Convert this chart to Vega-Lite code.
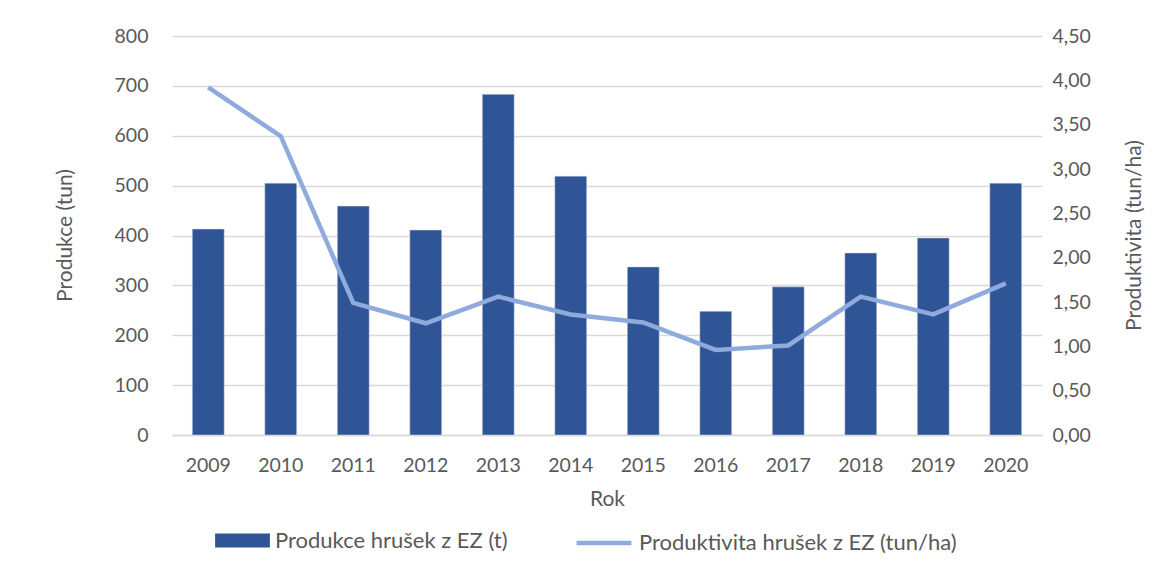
{
  "$schema": "https://vega.github.io/schema/vega-lite/v6.json",
  "autosize": "none",
  "width": 870,
  "height": 399,
  "padding": {"left": 172, "top": 36, "right": 123, "bottom": 136},
  "background": "white",
  "config": {
    "locale": {"number": {"decimal": ",", "thousands": " ", "grouping": [3], "currency": ["", " Kč"]}},
    "font": "Lato",
    "view": {"stroke": null},
    "axis": {"labelFont": "Lato", "titleFont": "Lato", "labelColor": "#595959", "titleColor": "#595959", "labelFontSize": 19.5, "titleFontSize": 21, "titleFontWeight": "normal"}
  },
  "data": {"values": [
    {"rok": "2009", "produkce": 413, "produktivita": 3.92},
    {"rok": "2010", "produkce": 505, "produktivita": 3.37},
    {"rok": "2011", "produkce": 459, "produktivita": 1.49},
    {"rok": "2012", "produkce": 411, "produktivita": 1.26},
    {"rok": "2013", "produkce": 683, "produktivita": 1.56},
    {"rok": "2014", "produkce": 519, "produktivita": 1.36},
    {"rok": "2015", "produkce": 337, "produktivita": 1.27},
    {"rok": "2016", "produkce": 248, "produktivita": 0.96},
    {"rok": "2017", "produkce": 297, "produktivita": 1.01},
    {"rok": "2018", "produkce": 365, "produktivita": 1.56},
    {"rok": "2019", "produkce": 395, "produktivita": 1.36},
    {"rok": "2020", "produkce": 505, "produktivita": 1.71}
  ]},
  "encoding": {
    "x": {"field": "rok", "type": "ordinal", "scale": {"paddingInner": 0.56, "paddingOuter": 0.28},
      "axis": {"title": "Rok", "labelAngle": 0, "ticks": false, "domainColor": "#D9D9D9", "domainWidth": 1.5, "labelPadding": 21, "titlePadding": 14}}
  },
  "layer": [
    {
      "mark": {"type": "bar", "color": "#2F5597", "stroke": "#D6DCE5", "strokeWidth": 0.5},
      "encoding": {
        "y": {"field": "produkce", "type": "quantitative", "scale": {"domain": [0, 800]},
          "axis": {"title": "Produkce (tun)", "values": [0,100,200,300,400,500,600,700,800], "domain": false, "ticks": false, "gridColor": "#D9D9D9", "gridWidth": 1.5, "labelPadding": 24, "titleX": -107, "titleY": 199, "titleAngle": -90, "titleBaseline": "middle"}},
        "fill": {"datum": "Produkce hrušek z EZ (t)", "type": "nominal", "scale": {"range": ["#2F5597"]},
          "legend": {"title": null, "orient": "none", "legendX": 43, "legendY": 477, "symbolType": "M-1,-0.26H1V0.26H-1Z", "symbolSize": 3000, "symbolStrokeWidth": 0, "labelFontSize": 22, "labelFont": "Lato", "labelColor": "#595959", "labelOffset": 5, "labelLimit": 0}}
      }
    },
    {
      "mark": {"type": "line", "color": "#8FAADC", "strokeWidth": 4.5},
      "encoding": {
        "y": {"field": "produktivita", "type": "quantitative", "scale": {"domain": [0, 4.5]},
          "axis": {"title": "Produktivita (tun/ha)", "orient": "right", "values": [0,0.5,1,1.5,2,2.5,3,3.5,4,4.5], "format": ".2f", "grid": false, "domain": false, "ticks": false, "labelPadding": 10, "titleX": 92, "titleY": 199, "titleAngle": -90, "titleBaseline": "middle"}},
        "stroke": {"datum": "Produktivita hrušek z EZ (tun/ha)", "type": "nominal", "scale": {"range": ["#8FAADC"]},
          "legend": {"title": null, "orient": "none", "legendX": 402, "legendY": 477, "symbolType": "stroke", "symbolSize": 3000, "symbolStrokeWidth": 4.5, "labelFontSize": 22, "labelFont": "Lato", "labelColor": "#595959", "labelOffset": 5, "labelLimit": 0}}
      }
    }
  ],
  "resolve": {"scale": {"y": "independent"}}
}
